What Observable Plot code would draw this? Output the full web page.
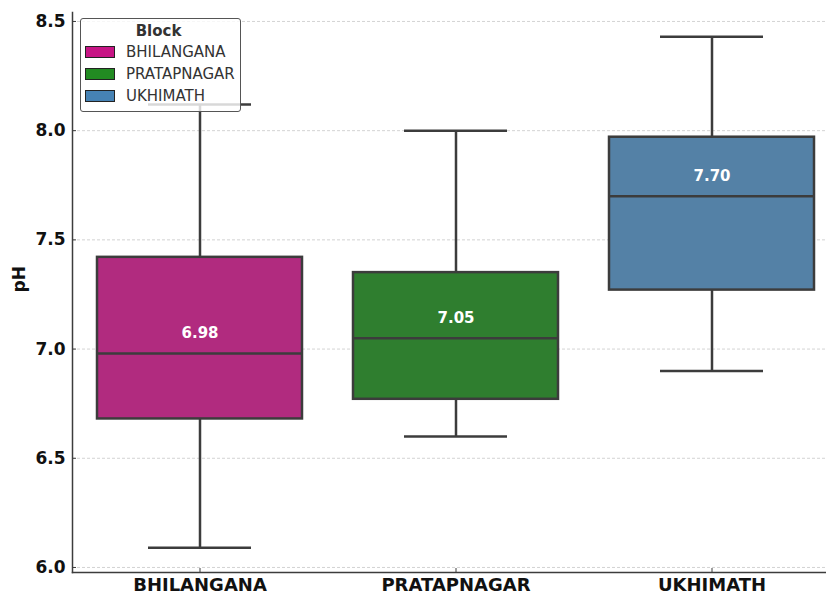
<!DOCTYPE html>
<html>
<head>
<meta charset="utf-8">
<script src="https://cdn.jsdelivr.net/npm/d3@7"></script>
<script src="https://cdn.jsdelivr.net/npm/@observablehq/plot@0.6"></script>
<style>
  html, body { margin: 0; padding: 0; background: #fff; overflow: hidden; }
  #chart { position: relative; width: 826px; height: 595px; font-family: "DejaVu Sans", sans-serif; }
  #legend {
    position: absolute; left: 80px; top: 18px; width: 159px; height: 92px;
    border: 1px solid #555; border-radius: 3px; background: rgba(255,255,255,0.8);
    box-sizing: content-box; color: #333; font-size: 15px;
  }
  #legend .title { text-align: center; font-weight: bold; margin-top: 3px; height: 19px; line-height: 19px; padding-right: 4px; }
  #legend .row { display: flex; align-items: center; height: 22px; }
  #legend .sw { width: 28px; height: 10px; border: 1px solid #222; margin-left: 4px; margin-right: 11px; }
</style>
</head>
<body>
<div id="chart"></div>
<script>
// pH summary per block: whiskers, quartiles and median
const blocks = ["BHILANGANA", "PRATAPNAGAR", "UKHIMATH"];
const whiskerLow = [6.09, 6.60, 6.90];
const q1 = [6.68, 6.77, 7.27];
const median = [6.98, 7.05, 7.70];
const q3 = [7.42, 7.35, 7.97];
const whiskerHigh = [8.12, 8.00, 8.43];
const yTicks = [6.0, 6.5, 7.0, 7.5, 8.0, 8.5];

const legendColors = ["#c71585", "#228b22", "#4682b4"];
const boxColors = ["#b12b7f", "#2f7e2f", "#5481a6"];

const rows = blocks.map((b, i) => ({
  block: b, low: whiskerLow[i], q1: q1[i], med: median[i], q3: q3[i], high: whiskerHigh[i], fill: boxColors[i]
}));

const ink = "#3c3c3c";
const W = 826, H = 595, mL = 72, mT = 12, mB = 23;

const plot = Plot.plot({
  width: W, height: H,
  marginLeft: mL, marginRight: 0, marginTop: mT, marginBottom: mB,
  style: { fontFamily: "DejaVu Sans, sans-serif", background: "transparent", overflow: "visible" },
  x: { domain: blocks, range: [mL - 1, mL + 767], paddingInner: 0.2, paddingOuter: 0.1, label: null },
  y: { domain: [5.977, 8.541], label: null },
  marks: [
    Plot.gridY(yTicks, { stroke: "#c8c8c8", strokeOpacity: 1, strokeDasharray: "3,2", strokeWidth: 0.8 }),
    Plot.ruleX(rows, { x: "block", y1: "low", y2: "high", stroke: ink, strokeWidth: 2.5 }),
    Plot.tickY(rows, { x: "block", y: "low", stroke: ink, strokeWidth: 2.5, insetLeft: 51, insetRight: 51 }),
    Plot.tickY(rows, { x: "block", y: "high", stroke: ink, strokeWidth: 2.5, insetLeft: 51, insetRight: 51 }),
    Plot.barY(rows, { x: "block", y1: "q1", y2: "q3", fill: "fill", stroke: ink, strokeWidth: 2.5 }),
    Plot.tickY(rows, { x: "block", y: "med", stroke: ink, strokeWidth: 2.5 }),
    Plot.text(rows, { x: "block", y: "med", text: d => d.med.toFixed(2), dy: -20, fill: "white",
      fontWeight: "bold", fontSize: 15 }),
    Plot.axisY(yTicks, { tickFormat: d => d.toFixed(1), tickSize: -4, tickPadding: 11, stroke: ink,
      fontSize: 17, fontWeight: "bold", fill: "#111", label: null }),
    Plot.axisX({ tickSize: -4, tickPadding: 10, stroke: ink, fontSize: 18, fontWeight: "bold", fill: "#111", label: null }),
    Plot.frame({ anchor: "left", stroke: ink, strokeWidth: 1.5 }),
    Plot.frame({ anchor: "bottom", stroke: ink, strokeWidth: 1.5 }),
    Plot.text(["pH"], { frameAnchor: "left", dx: -53, rotate: -90, fontSize: 17, fontWeight: "bold", fill: "#111" })
  ]
});

const chart = document.getElementById("chart");
chart.appendChild(plot);

// Legend box inside the plot area
const legend = document.createElement("div");
legend.id = "legend";
legend.innerHTML = `<div class="title">Block</div>` +
  blocks.map((b, i) => `<div class="row"><div class="sw" style="background:${legendColors[i]}"></div><span>${b}</span></div>`).join("");
chart.appendChild(legend);
</script>
</body>
</html>
